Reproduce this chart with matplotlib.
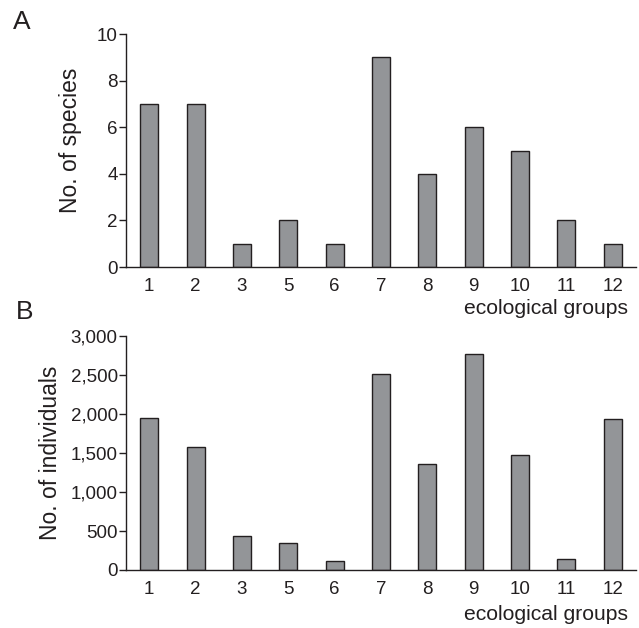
import matplotlib
matplotlib.use("Agg")
import matplotlib.pyplot as plt
from matplotlib.ticker import FuncFormatter

plt.rcParams['font.family'] = ['Liberation Sans', 'DejaVu Sans']

groups = ['1', '2', '3', '5', '6', '7', '8', '9', '10', '11', '12']
species = [7, 7, 1, 2, 1, 9, 4, 6, 5, 2, 1]
individuals = [1950, 1575, 440, 350, 120, 2510, 1360, 2770, 1480, 140, 1940]

bar_color = '#939598'
edge_color = '#231f20'

fig = plt.figure(figsize=(6.39, 6.28), dpi=100)
W, H = 639, 628

def make_axes(top_px, bottom_px):
    return fig.add_axes([126 / W, 1 - bottom_px / H, (636 - 126) / W, (bottom_px - top_px) / H])

axA = make_axes(34, 267)
axB = make_axes(336, 570)

def style(ax, values, ymax, yticks, ylabel, fmt=None, labelpad=6):
    x = list(range(len(groups)))
    ax.bar(x, values, width=0.39, color=bar_color, edgecolor=edge_color, linewidth=1.0)
    ax.set_xlim(-0.5, len(groups) - 0.5)
    ax.set_ylim(0, ymax)
    ax.set_yticks(yticks)
    ax.set_xticks(x)
    ax.set_xticklabels(groups)
    if fmt:
        ax.yaxis.set_major_formatter(FuncFormatter(fmt))
    for s in ['top', 'right']:
        ax.spines[s].set_visible(False)
    for s in ['left', 'bottom']:
        ax.spines[s].set_color(edge_color)
        ax.spines[s].set_linewidth(1.0)
    ax.tick_params(axis='y', direction='out', length=5, width=1, color=edge_color,
                   labelsize=13.5, pad=1, labelcolor=edge_color)
    ax.tick_params(axis='x', length=0, labelsize=13.5, pad=8, labelcolor=edge_color)
    ax.set_ylabel(ylabel, fontsize=16.5, color=edge_color, labelpad=labelpad)

style(axA, species, 10, [0, 2, 4, 6, 8, 10], 'No. of species', labelpad=8)
style(axB, individuals, 3000, [0, 500, 1000, 1500, 2000, 2500, 3000], 'No. of individuals',
      fmt=lambda v, p: f'{int(v):,}', labelpad=6)
axA.yaxis.set_label_coords((82 - 126) / (636 - 126), 0.545)

fig.text(628 / W, 1 - 309 / H, 'ecological groups', ha='right', va='center', fontsize=15.2, color=edge_color)
fig.text(628 / W, 1 - 615 / H, 'ecological groups', ha='right', va='center', fontsize=15.2, color=edge_color)
fig.text(13 / W, 1 - 22 / H, 'A', ha='left', va='center', fontsize=19, color=edge_color)
fig.text(16 / W, 1 - 312 / H, 'B', ha='left', va='center', fontsize=19, color=edge_color)

fig.savefig('out.png', dpi=100)
